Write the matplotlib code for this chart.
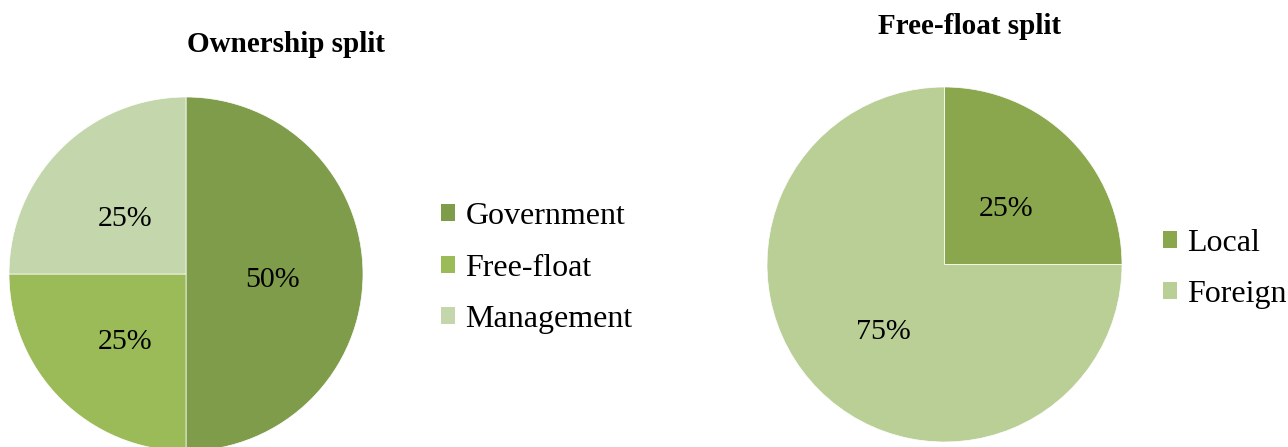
import matplotlib.pyplot as plt
from matplotlib.patches import Patch

plt.rcParams['font.family'] = ['Liberation Serif', 'DejaVu Serif']

owner_labels = ["Government", "Free-float", "Management"]
owner_shares = [50, 25, 25]
owner_colors = ["#7F9C4A", "#9BBB59", "#C4D6AB"]

float_labels = ["Local", "Foreign"]
float_shares = [25, 75]
float_colors = ["#8AA74E", "#B9CF96"]

W, H = 1288, 447
fig = plt.figure(figsize=(W / 100, H / 100), dpi=100)


def px_axes(x0, y0, size):
    # axes placed by pixel box measured from the top-left corner
    return fig.add_axes([x0 / W, (H - y0 - size) / H, size / W, size / H])


def draw_pie(ax, shares, colors):
    _, _, autotexts = ax.pie(shares, colors=colors, startangle=90, counterclock=False,
                             autopct="%d%%", pctdistance=0.49,
                             textprops={"fontsize": 21.5, "color": "black"},
                             wedgeprops={"linewidth": 0.5, "edgecolor": "white"})
    # nudge the percentages down a little so they sit on the text baseline
    for t in autotexts:
        x, y = t.get_position()
        t.set_position((x, y - 0.035))
    ax.set_xlim(-1, 1)
    ax.set_ylim(-1, 1)
    ax.set_axis_off()


ax1 = px_axes(9, 97, 354)
draw_pie(ax1, owner_shares, owner_colors)

ax2 = px_axes(767, 87, 355)
draw_pie(ax2, float_shares, float_colors)

fig.text(286 / W, 1 - 44 / H, "Ownership split", ha="center", va="center",
         fontsize=21, fontweight="bold")
fig.text(970 / W, 1 - 27 / H, "Free-float split", ha="center", va="center",
         fontsize=21, fontweight="bold")

legend_kw = dict(frameon=False, fontsize=23, handlelength=0.44, handleheight=0.44,
                 handletextpad=0.32, labelspacing=0.7, borderpad=0,
                 borderaxespad=0, loc="center left")

h1 = [Patch(facecolor=c, label=l) for c, l in zip(owner_colors, owner_labels)]
fig.legend(handles=h1, bbox_to_anchor=(441 / W, 1 - 268 / H), **legend_kw)

h2 = [Patch(facecolor=c, label=l) for c, l in zip(float_colors, float_labels)]
fig.legend(handles=h2, bbox_to_anchor=(1163 / W, 1 - 269 / H), **legend_kw)

fig.savefig("out.png", dpi=100)
